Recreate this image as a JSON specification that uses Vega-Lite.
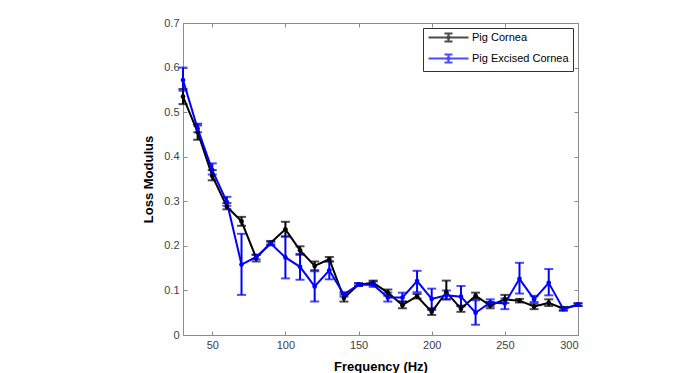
{
  "$schema": "https://vega.github.io/schema/vega-lite/v6.json",
  "width": 395,
  "height": 312,
  "autosize": {"type": "none"},
  "padding": {"left": 183, "top": 23, "right": 105, "bottom": 38},
  "background": "white",
  "config": {
    "font": "Liberation Sans",
    "view": {"stroke": "#8c8c8c", "strokeWidth": 1},
    "axis": {
      "grid": false,
      "domainColor": "#8c8c8c",
      "tickColor": "#8c8c8c",
      "labelColor": "#404040",
      "labelFont": "Liberation Sans",
      "labelFontSize": 11,
      "titleFont": "Liberation Sans",
      "titleFontSize": 13,
      "titleFontWeight": "bold",
      "titleColor": "#000000",
      "tickSize": -4
    }
  },
  "data": {
    "values": [
      {"f": 30, "s": "Pig Cornea", "v": 0.535, "lo": 0.518, "hi": 0.552},
      {"f": 40, "s": "Pig Cornea", "v": 0.455, "lo": 0.438, "hi": 0.474},
      {"f": 50, "s": "Pig Cornea", "v": 0.357, "lo": 0.347, "hi": 0.370},
      {"f": 60, "s": "Pig Cornea", "v": 0.288, "lo": 0.282, "hi": 0.296},
      {"f": 70, "s": "Pig Cornea", "v": 0.255, "lo": 0.245, "hi": 0.265},
      {"f": 80, "s": "Pig Cornea", "v": 0.173, "lo": 0.165, "hi": 0.180},
      {"f": 90, "s": "Pig Cornea", "v": 0.207, "lo": 0.203, "hi": 0.211},
      {"f": 100, "s": "Pig Cornea", "v": 0.237, "lo": 0.221, "hi": 0.254},
      {"f": 110, "s": "Pig Cornea", "v": 0.190, "lo": 0.180, "hi": 0.199},
      {"f": 120, "s": "Pig Cornea", "v": 0.155, "lo": 0.145, "hi": 0.165},
      {"f": 130, "s": "Pig Cornea", "v": 0.170, "lo": 0.165, "hi": 0.175},
      {"f": 140, "s": "Pig Cornea", "v": 0.083, "lo": 0.075, "hi": 0.091},
      {"f": 150, "s": "Pig Cornea", "v": 0.113, "lo": 0.110, "hi": 0.116},
      {"f": 160, "s": "Pig Cornea", "v": 0.117, "lo": 0.112, "hi": 0.122},
      {"f": 170, "s": "Pig Cornea", "v": 0.095, "lo": 0.088, "hi": 0.102},
      {"f": 180, "s": "Pig Cornea", "v": 0.067, "lo": 0.060, "hi": 0.075},
      {"f": 190, "s": "Pig Cornea", "v": 0.087, "lo": 0.082, "hi": 0.092},
      {"f": 200, "s": "Pig Cornea", "v": 0.052, "lo": 0.045, "hi": 0.060},
      {"f": 210, "s": "Pig Cornea", "v": 0.096, "lo": 0.080, "hi": 0.122},
      {"f": 220, "s": "Pig Cornea", "v": 0.059, "lo": 0.052, "hi": 0.066},
      {"f": 230, "s": "Pig Cornea", "v": 0.088, "lo": 0.081, "hi": 0.095},
      {"f": 240, "s": "Pig Cornea", "v": 0.066, "lo": 0.060, "hi": 0.074},
      {"f": 250, "s": "Pig Cornea", "v": 0.080, "lo": 0.072, "hi": 0.090},
      {"f": 260, "s": "Pig Cornea", "v": 0.077, "lo": 0.073, "hi": 0.081},
      {"f": 270, "s": "Pig Cornea", "v": 0.064, "lo": 0.058, "hi": 0.070},
      {"f": 280, "s": "Pig Cornea", "v": 0.072, "lo": 0.065, "hi": 0.080},
      {"f": 290, "s": "Pig Cornea", "v": 0.059, "lo": 0.055, "hi": 0.063},
      {"f": 300, "s": "Pig Cornea", "v": 0.068, "lo": 0.065, "hi": 0.071},
      {"f": 30, "s": "Pig Excised Cornea", "v": 0.572, "lo": 0.548, "hi": 0.600},
      {"f": 40, "s": "Pig Excised Cornea", "v": 0.463, "lo": 0.455, "hi": 0.470},
      {"f": 50, "s": "Pig Excised Cornea", "v": 0.370, "lo": 0.360, "hi": 0.385},
      {"f": 60, "s": "Pig Excised Cornea", "v": 0.298, "lo": 0.290, "hi": 0.310},
      {"f": 70, "s": "Pig Excised Cornea", "v": 0.158, "lo": 0.090, "hi": 0.227},
      {"f": 80, "s": "Pig Excised Cornea", "v": 0.175, "lo": 0.170, "hi": 0.180},
      {"f": 90, "s": "Pig Excised Cornea", "v": 0.205, "lo": 0.201, "hi": 0.209},
      {"f": 100, "s": "Pig Excised Cornea", "v": 0.174, "lo": 0.127, "hi": 0.221},
      {"f": 110, "s": "Pig Excised Cornea", "v": 0.153, "lo": 0.124, "hi": 0.182},
      {"f": 120, "s": "Pig Excised Cornea", "v": 0.109, "lo": 0.075, "hi": 0.143},
      {"f": 130, "s": "Pig Excised Cornea", "v": 0.145, "lo": 0.125, "hi": 0.165},
      {"f": 140, "s": "Pig Excised Cornea", "v": 0.091, "lo": 0.086, "hi": 0.096},
      {"f": 150, "s": "Pig Excised Cornea", "v": 0.113, "lo": 0.110, "hi": 0.116},
      {"f": 160, "s": "Pig Excised Cornea", "v": 0.113, "lo": 0.108, "hi": 0.120},
      {"f": 170, "s": "Pig Excised Cornea", "v": 0.084, "lo": 0.075, "hi": 0.095},
      {"f": 180, "s": "Pig Excised Cornea", "v": 0.084, "lo": 0.075, "hi": 0.095},
      {"f": 190, "s": "Pig Excised Cornea", "v": 0.121, "lo": 0.096, "hi": 0.144},
      {"f": 200, "s": "Pig Excised Cornea", "v": 0.081, "lo": 0.056, "hi": 0.104},
      {"f": 210, "s": "Pig Excised Cornea", "v": 0.089, "lo": 0.080, "hi": 0.100},
      {"f": 220, "s": "Pig Excised Cornea", "v": 0.086, "lo": 0.064, "hi": 0.110},
      {"f": 230, "s": "Pig Excised Cornea", "v": 0.050, "lo": 0.023, "hi": 0.078},
      {"f": 240, "s": "Pig Excised Cornea", "v": 0.073, "lo": 0.065, "hi": 0.080},
      {"f": 250, "s": "Pig Excised Cornea", "v": 0.071, "lo": 0.058, "hi": 0.082},
      {"f": 260, "s": "Pig Excised Cornea", "v": 0.126, "lo": 0.093, "hi": 0.162},
      {"f": 270, "s": "Pig Excised Cornea", "v": 0.080, "lo": 0.074, "hi": 0.088},
      {"f": 280, "s": "Pig Excised Cornea", "v": 0.117, "lo": 0.089, "hi": 0.148},
      {"f": 290, "s": "Pig Excised Cornea", "v": 0.058, "lo": 0.055, "hi": 0.062},
      {"f": 300, "s": "Pig Excised Cornea", "v": 0.068, "lo": 0.065, "hi": 0.071}
    ]
  },
  "resolve": {"axis": {"x": "independent", "y": "independent"}},
  "layer": [
    {
      "mark": {"type": "rule", "strokeWidth": 2},
      "encoding": {
        "x": {"field": "f", "type": "quantitative", "scale": {"domain": [30, 300], "nice": false},
              "axis": {"orient": "bottom", "values": [50, 100, 150, 200, 250, 300], "title": "Frequency (Hz)", "labelPadding": 8, "titlePadding": 10}},
        "y": {"field": "lo", "type": "quantitative", "scale": {"domain": [0, 0.7], "nice": false},
              "axis": {"orient": "left", "values": [0, 0.1, 0.2, 0.3, 0.4, 0.5, 0.6, 0.7], "format": ".1~f", "title": "Loss Modulus", "labelPadding": 8, "titlePadding": 8}},
        "y2": {"field": "hi"},
        "color": {"field": "s", "type": "nominal",
                  "scale": {"domain": ["Pig Cornea", "Pig Excised Cornea"], "range": ["#000000", "#0000ff"]},
                  "legend": {
                    "title": null,
                    "orient": "top-right",
                    "offset": 5,
                    "fillColor": "white",
                    "strokeColor": "#333333",
                    "padding": 4,
                    "labelFont": "Liberation Sans",
                    "labelFontSize": 11,
                    "labelColor": "#000000",
                    "symbolType": "M-1,0H9M4,-1V1M3,-1H5M3,1H5M4.3,0A0.3,0.3 0 1,1 3.7,0A0.3,0.3 0 1,1 4.3,0",
                    "symbolSize": 64,
                    "symbolStrokeWidth": 2,
                    "symbolOpacity": 1,
                    "symbolFillColor": "transparent",
                    "labelOffset": 34,
                    "rowPadding": 4
                  }}
      }
    },
    {
      "mark": {"type": "tick", "orient": "horizontal", "size": 9, "thickness": 2},
      "encoding": {
        "x": {"field": "f", "type": "quantitative", "axis": {"orient": "top", "values": [50, 100, 150, 200, 250, 300], "labels": false, "title": null}},
        "y": {"field": "lo", "type": "quantitative", "axis": {"orient": "right", "values": [0, 0.1, 0.2, 0.3, 0.4, 0.5, 0.6, 0.7], "labels": false, "title": null}},
        "color": {"field": "s", "type": "nominal"}
      }
    },
    {
      "mark": {"type": "tick", "orient": "horizontal", "size": 9, "thickness": 2},
      "encoding": {
        "x": {"field": "f", "type": "quantitative", "axis": null},
        "y": {"field": "hi", "type": "quantitative", "axis": null},
        "color": {"field": "s", "type": "nominal"}
      }
    },
    {
      "mark": {"type": "line", "strokeWidth": 2},
      "encoding": {
        "x": {"field": "f", "type": "quantitative", "axis": null},
        "y": {"field": "v", "type": "quantitative", "axis": null},
        "color": {"field": "s", "type": "nominal"}
      }
    },
    {
      "mark": {"type": "circle", "size": 22, "opacity": 1},
      "encoding": {
        "x": {"field": "f", "type": "quantitative", "axis": null},
        "y": {"field": "v", "type": "quantitative", "axis": null},
        "color": {"field": "s", "type": "nominal"}
      }
    }
  ]
}
